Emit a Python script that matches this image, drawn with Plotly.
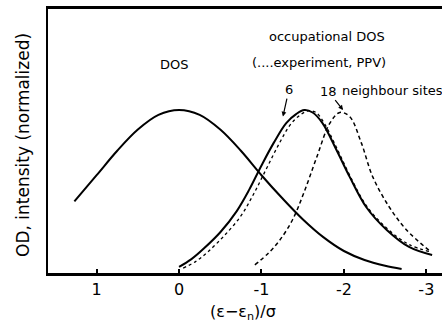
import plotly.graph_objects as go

# Energy axis: (eps - eps_n)/sigma, plotted decreasing to the right
dos_x = [1.27, 1.0, 0.75, 0.5, 0.25, 0.0, -0.25, -0.5, -0.75, -1.0, -1.25,
         -1.5, -1.75, -2.0, -2.25, -2.5, -2.7]
dos_y = [0.44, 0.60, 0.75, 0.88, 0.97, 1.0, 0.97, 0.88, 0.75, 0.60, 0.46,
         0.33, 0.22, 0.135, 0.08, 0.045, 0.025]

# occupational DOS, 6 neighbour sites (solid)
occ6_x = [0.0, -0.15, -0.30, -0.50, -0.70, -0.85, -1.00, -1.15, -1.30,
          -1.42, -1.52, -1.62, -1.74, -1.91, -2.07, -2.27, -2.52, -2.79,
          -3.07]
occ6_y = [0.037, 0.085, 0.15, 0.25, 0.38, 0.51, 0.66, 0.80, 0.92,
          0.975, 1.0, 0.985, 0.92, 0.755, 0.59, 0.405, 0.264, 0.16,
          0.11]

# experiment, PPV (dotted)
exp_x = [-0.05, -0.20, -0.35, -0.55, -0.75, -0.90, -1.05, -1.20, -1.35,
         -1.47, -1.57, -1.66, -1.76, -1.91, -2.07, -2.27, -2.52, -2.79,
         -3.05]
exp_y = [0.03, 0.07, 0.13, 0.23, 0.35, 0.48, 0.63, 0.78, 0.91,
         0.97, 0.995, 0.985, 0.92, 0.77, 0.60, 0.415, 0.275, 0.175,
         0.13]

# occupational DOS, 18 neighbour sites (dashed)
occ18_x = [-0.92, -1.08, -1.22, -1.38, -1.52, -1.67, -1.83, -1.95, -2.07,
           -2.21, -2.35, -2.55, -2.76, -3.03]
occ18_y = [0.05, 0.12, 0.20, 0.33, 0.50, 0.71, 0.92, 0.985, 0.96,
           0.80, 0.59, 0.405, 0.264, 0.14]

tick_vals = [1, 0, -1, -2, -3]
tick_text = ["1", "0", "-1", "-2", "-3"]

FONT = "DejaVu Sans, sans-serif"

fig = go.Figure()
fig.add_trace(go.Scatter(x=dos_x, y=dos_y, mode="lines",
                         line=dict(color="black", width=2, shape="spline")))
fig.add_trace(go.Scatter(x=occ6_x, y=occ6_y, mode="lines",
                         line=dict(color="black", width=2, shape="spline")))
fig.add_trace(go.Scatter(x=exp_x, y=exp_y, mode="lines",
                         line=dict(color="black", width=1.3, shape="spline",
                                   dash="dot")))
fig.add_trace(go.Scatter(x=occ18_x, y=occ18_y, mode="lines",
                         line=dict(color="black", width=1.5, shape="spline",
                                   dash="4px,3px")))

txt = dict(font=dict(family=FONT, size=13, color="black"), showarrow=False,
           xref="x", yref="y")
fig.add_annotation(x=0.06, y=1.28, text="DOS", **txt)
fig.add_annotation(x=-1.79, y=1.45, text="occupational DOS", **txt)
fig.add_annotation(x=-1.70, y=1.29, text="(....experiment, PPV)", **txt)
fig.add_annotation(x=-2.59, y=1.12, text="neighbour sites", **txt)

# labels with arrows pointing at the 6- and 18-site curves
arrow = dict(showarrow=True, arrowhead=2, arrowsize=0.8, arrowwidth=1.2,
             arrowcolor="black", xref="x", yref="y", standoff=0,
             font=dict(family=FONT, size=13, color="black"))
fig.add_annotation(x=-1.26, y=0.96, ax=6, ay=-27, text="6", **arrow)
fig.add_annotation(x=-1.99, y=1.0, ax=-15, ay=-19, text="18", **arrow)

# axis titles
fig.add_annotation(x=(243 - 48) / 394, y=-(312 - 273) / 264,
                   xref="paper", yref="paper", yanchor="middle",
                   text="(ε−ε<sub>n</sub>)/σ", showarrow=False,
                   font=dict(family=FONT, size=16, color="black"))
fig.add_annotation(x=-(48 - 23) / 394, y=0.5 - 4 / 264, xref="paper",
                   yref="paper", text="OD, intensity (normalized)",
                   textangle=-90, showarrow=False, xanchor="center",
                   yanchor="middle",
                   font=dict(family=FONT, size=17, color="black"))

fig.update_layout(
    width=442, height=324,
    margin=dict(l=48, r=0, t=9, b=51),
    paper_bgcolor="white", plot_bgcolor="white",
    showlegend=False,
    xaxis=dict(range=[1.59, -3.19], tickvals=tick_vals, ticktext=tick_text,
               ticks="inside", ticklen=4, tickwidth=1.5, tickcolor="black",
               showgrid=False, zeroline=False, showline=True, linewidth=2.5,
               linecolor="black", mirror=True,
               tickfont=dict(family=FONT, size=16, color="black")),
    yaxis=dict(range=[0, 1.62], showticklabels=False, showgrid=False,
               zeroline=False, showline=True, linewidth=2, linecolor="black",
               ticks=""),
)

fig.write_html("out.html")
